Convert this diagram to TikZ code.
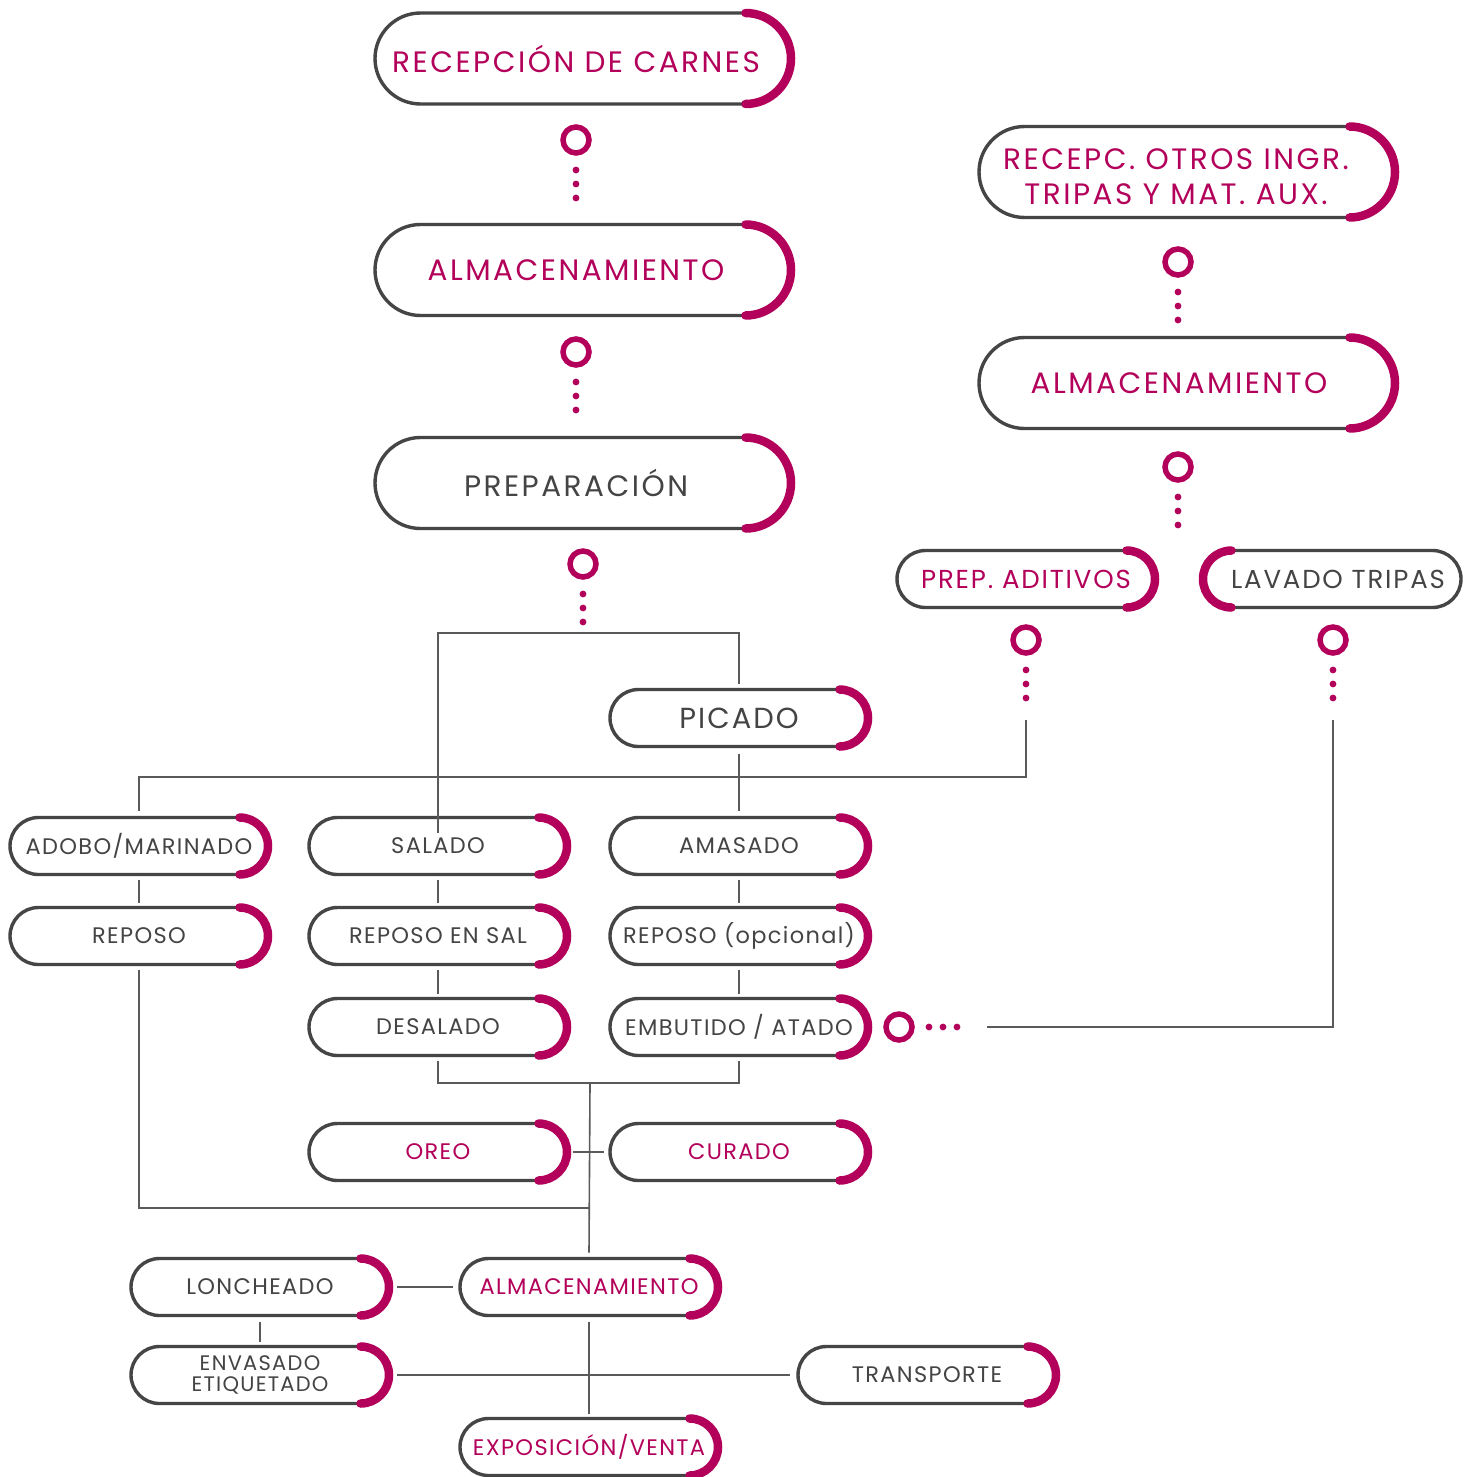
\documentclass[tikz,border=0pt]{standalone}
\usepackage{fontspec}
\setmainfont{Poppins}
\definecolor{mag}{HTML}{B3005A}
\definecolor{outl}{HTML}{454545}
\definecolor{txtg}{HTML}{444444}
\definecolor{connc}{HTML}{5A5A5A}
\tikzset{
  pillbase/.style={draw=outl, line width=3.4pt, inner sep=0pt, outer sep=0pt, align=center},
  bigpill/.style={pillbase, minimum width=416pt, minimum height=91pt, rounded corners=45.5pt},
  smallpill/.style={pillbase, minimum width=258pt, minimum height=57pt, rounded corners=28.5pt},
  bigtxt/.style={font=\fontsize{29.5}{35}\selectfont\addfontfeature{LetterSpace=8.5}},
  midtxt/.style={font=\fontsize{26}{30}\selectfont\addfontfeature{LetterSpace=7}},
  pictxt/.style={font=\fontsize{29}{30}\selectfont\addfontfeature{LetterSpace=7}},
  smtxt/.style={font=\fontsize{22.5}{22}\selectfont\addfontfeature{LetterSpace=6}},
  envtxt/.style={font=\fontsize{21}{20.5}\selectfont\addfontfeature{LetterSpace=6}},
  magtxt/.style={text=mag},
  grtxt/.style={text=txtg},
  magarc/.style={draw=mag, line width=8.5pt, line cap=round},
  ring/.style={circle, draw=mag, line width=5.5pt, minimum size=26pt, inner sep=0pt},
  conn/.style={draw=connc, line width=1.6pt},
  dotf/.style={fill=mag},
}
\newcommand\magR[2]{\draw[magarc] ([xshift=-#2pt]#1.north east) arc[start angle=90,end angle=-90,radius=#2pt];}
\newcommand\magL[2]{\draw[magarc] ([xshift=#2pt]#1.north west) arc[start angle=90,end angle=270,radius=#2pt];}
\newcommand\dotcol[2]{\foreach \yy in {0,14,28} {\fill[dotf] (#1,#2+\yy) circle[radius=3.4pt];}}
\begin{document}
\begin{tikzpicture}[x=1pt,y=-1pt]
\fill[white] (0,0) rectangle (1475,1477);
\useasboundingbox (0,0) rectangle (1475,1477);

% big nodes left
\node[bigpill, bigtxt, magtxt] (rec) at (583,58.5) {RECEPCIÓN DE CARNES\hspace{14pt}};
\magR{rec}{45.5}
\node[bigpill, bigtxt, magtxt] (alm1) at (583,270) {ALMACENAMIENTO\hspace{14pt}};
\magR{alm1}{45.5}
\node[bigpill, bigtxt, grtxt] (prep) at (583,483) {PREPARACIÓN\hspace{14pt}};
\magR{prep}{45.5}

% big nodes right
\node[bigpill, bigtxt, magtxt] (otros) at (1187,172) {\rule{0pt}{31pt}RECEPC. OTROS INGR.\hspace*{22pt}\\TRIPAS Y MAT. AUX.\hspace*{22pt}};
\magR{otros}{45.5}
\node[bigpill, bigtxt, magtxt] (alm2) at (1187,383) {ALMACENAMIENTO\hspace{16pt}};
\magR{alm2}{45.5}

% rings and dots
\node[ring] (r1) at (576,140) {};
\dotcol{576}{170}
\node[ring] (r2) at (576,352) {};
\dotcol{576}{382}
\node[ring] (r3) at (583,564) {};
\dotcol{583}{594}
\node[ring] (r4) at (1178,262) {};
\dotcol{1178}{292}
\node[ring] (r5) at (1178,467) {};
\dotcol{1178}{497}
\node[ring] (r6) at (1026,640) {};
\dotcol{1026}{670}
\node[ring] (r7) at (1333,640) {};
\dotcol{1333}{670}
\node[ring] (r8) at (899,1027) {};
\foreach \xx in {929,943,957} {\fill[dotf] (\xx,1027) circle[radius=3.4pt];}

% small right nodes
\node[smallpill, midtxt, magtxt] (prepad) at (1026,579) {PREP. ADITIVOS};
\magR{prepad}{28.5}
\node[smallpill, midtxt, grtxt] (lavado) at (1332,579) {\hspace{12pt}LAVADO TRIPAS};
\magL{lavado}{28.5}

% picado
\node[smallpill, pictxt, grtxt] (picado) at (739,718) {PICADO};
\magR{picado}{28.5}

% rows
\node[smallpill, smtxt, grtxt] (adobo) at (139,846) {ADOBO/MARINADO};
\magR{adobo}{28.5}
\node[smallpill, smtxt, grtxt] (salado) at (438,846) {SALADO};
\magR{salado}{28.5}
\node[smallpill, smtxt, grtxt] (amasado) at (739,846) {AMASADO};
\magR{amasado}{28.5}
\node[smallpill, smtxt, grtxt] (reposo) at (139,936) {REPOSO};
\magR{reposo}{28.5}
\node[smallpill, smtxt, grtxt] (repsal) at (438,936) {REPOSO EN SAL};
\magR{repsal}{28.5}
\node[smallpill, smtxt, grtxt] (repop) at (739,936) {REPOSO (opcional)};
\magR{repop}{28.5}
\node[smallpill, smtxt, grtxt] (desalado) at (438,1027) {DESALADO};
\magR{desalado}{28.5}
\node[smallpill, smtxt, grtxt] (embutido) at (739,1027) {EMBUTIDO / ATADO};
\magR{embutido}{28.5}
\node[smallpill, smtxt, magtxt] (oreo) at (438,1152) {OREO};
\magR{oreo}{28.5}
\node[smallpill, smtxt, magtxt] (curado) at (739,1152) {CURADO};
\magR{curado}{28.5}
\node[smallpill, smtxt, grtxt] (lonch) at (260,1287) {LONCHEADO};
\magR{lonch}{28.5}
\node[smallpill, smtxt, magtxt] (alm3) at (589,1287) {ALMACENAMIENTO};
\magR{alm3}{28.5}
\node[smallpill, envtxt, grtxt] (envas) at (260,1375) {ENVASADO\\ETIQUETADO};
\magR{envas}{28.5}
\node[smallpill, smtxt, grtxt] (transp) at (927,1375) {TRANSPORTE};
\magR{transp}{28.5}
\node[smallpill, smtxt, magtxt] (expo) at (589,1447) {EXPOSICIÓN/VENTA};
\magR{expo}{28.5}

% connectors
\draw[conn] ([yshift=-15pt]salado.north) -- (438,633) -- (739,633) -- ([yshift=6pt]picado.north);
\draw[conn] ([yshift=-7pt]picado.south) -- ([yshift=7pt]amasado.north);
\coordinate (padend) at (1026,720);
\draw[conn] ([yshift=7pt]adobo.north) -- (139,777) -- (1026,777) -- (padend);
\draw[conn] ([yshift=-5pt]adobo.south) -- ([yshift=5pt]reposo.north);
\draw[conn] ([yshift=-5pt]salado.south) -- ([yshift=5pt]repsal.north);
\draw[conn] ([yshift=-5pt]repsal.south) -- ([yshift=5pt]desalado.north);
\draw[conn] ([yshift=-5pt]amasado.south) -- ([yshift=5pt]repop.north);
\draw[conn] ([yshift=-5pt]repop.south) -- ([yshift=5pt]embutido.north);
\coordinate (j2) at (590,1083);
\draw[conn] ([yshift=-5pt]desalado.south) -- (438,1083) -- (739,1083) -- ([yshift=-5pt]embutido.south);
\draw[conn] (j2) -- ([yshift=6pt]alm3.north);
\draw[conn] ([xshift=6pt]oreo.east) -- ([xshift=-6pt]curado.west);
\draw[conn] ([yshift=-5pt]reposo.south) -- (139,1208) -- (590,1208);
\coordinate (lavend) at (1333,720);
\coordinate (lavh) at (987,1027);
\draw[conn] (lavend) -- (1333,1027) -- (lavh);
\draw[conn] ([xshift=8pt]lonch.east) -- ([xshift=-7pt]alm3.west);
\draw[conn] ([yshift=-6pt]lonch.south) -- ([yshift=5pt]envas.north);
\draw[conn] ([yshift=-6pt]alm3.south) -- ([yshift=5pt]expo.north);
\draw[conn] ([xshift=8pt]envas.east) -- ([xshift=-8pt]transp.west);
\end{tikzpicture}
\end{document}
